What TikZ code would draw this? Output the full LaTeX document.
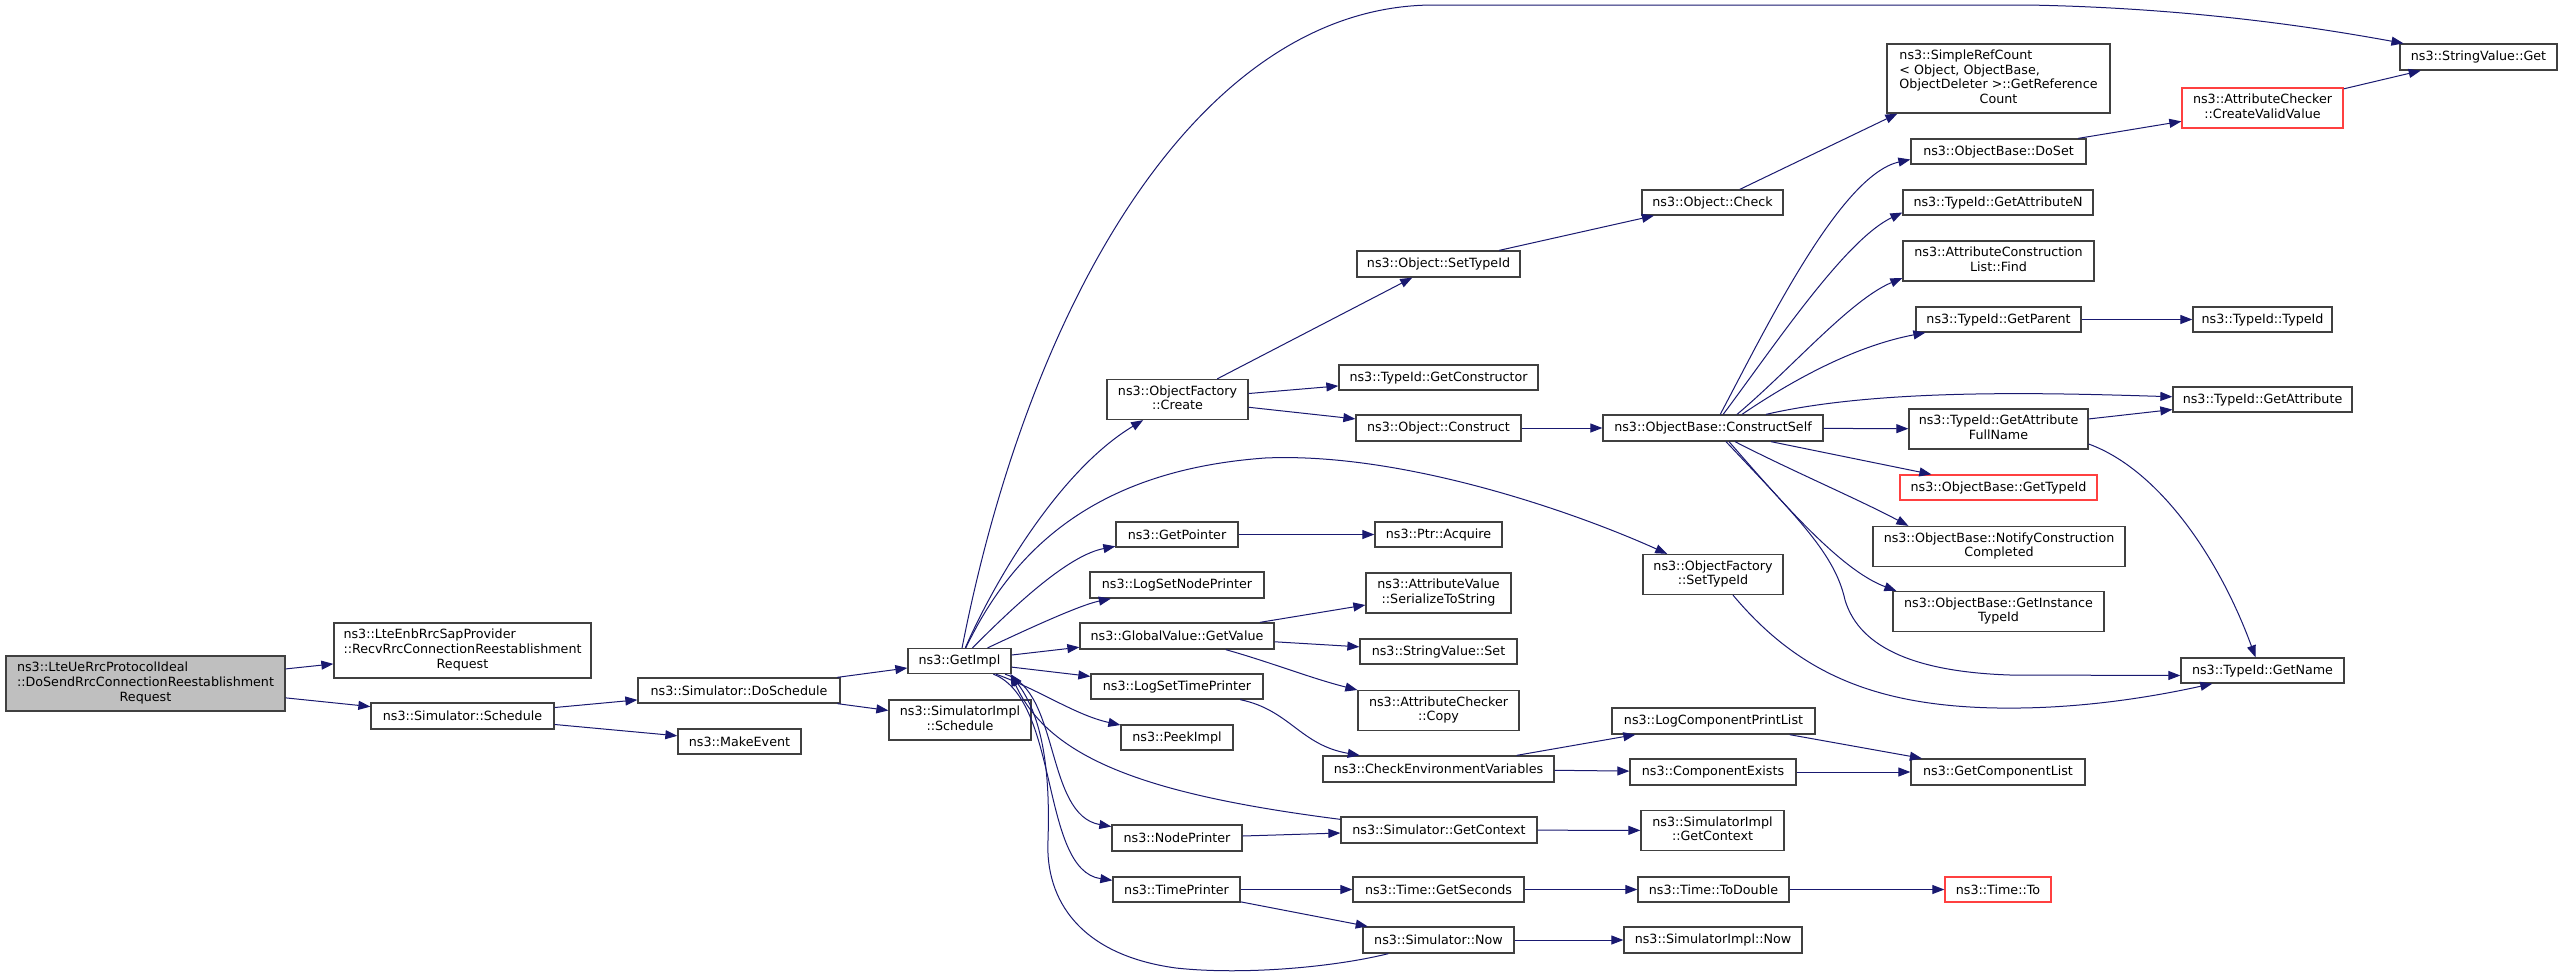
\documentclass[tikz,border=0pt]{standalone}
\usepackage{fontspec}
\setmainfont{DejaVu Sans}
\usetikzlibrary{arrows.meta}
\definecolor{edgeblue}{RGB}{25,25,112}
\definecolor{boxline}{RGB}{64,64,64}
\definecolor{mainfill}{RGB}{191,191,191}
\definecolor{truncred}{RGB}{255,64,64}
\newcommand{\ml}[2]{\begin{tabular}{@{}l@{}}#1\\\multicolumn{1}{@{}c@{}}{#2}\end{tabular}}
\begin{document}
\begin{tikzpicture}[x=1pt,y=-1pt,
  box/.style={draw=boxline, line width=1.3pt, rectangle, inner sep=0pt, fill=white,
    font=\fontsize{12.7}{14.6}\selectfont},
  redbox/.style={box, draw=truncred},
  cg/.style={draw=edgeblue, line width=1pt, -{Triangle[length=12pt,width=9pt]}},
]
\fill[white] (0,0) rectangle (2563,975);
\useasboundingbox (0,0) rectangle (2563,975);

% column 0-2
\node[box, fill=mainfill, minimum width=279pt, minimum height=55pt] (main) at (145.5,683.5) {\ml{ns3::LteUeRrcProtocolIdeal\\::DoSendRrcConnectionReestablishment}{Request}};
\node[box, minimum width=257pt, minimum height=55pt] (lte) at (462.5,650.5) {\ml{ns3::LteEnbRrcSapProvider\\::RecvRrcConnectionReestablishment}{Request}};
\node[box, minimum width=183pt, minimum height=26pt] (sched) at (462.5,716) {ns3::Simulator::Schedule};
\node[box, minimum width=202pt, minimum height=25pt] (dosched) at (739,690.5) {ns3::Simulator::DoSchedule};
\node[box, minimum width=123pt, minimum height=25pt] (makeev) at (739.5,741.5) {ns3::MakeEvent};
\node[box, minimum width=103pt, minimum height=25pt] (getimpl) at (959.5,661) {ns3::GetImpl};
\node[box, minimum width=142pt, minimum height=40pt] (simsched) at (960,720) {\ml{ns3::SimulatorImpl}{::Schedule}};

% column 1177
\node[box, minimum width=141pt, minimum height=40pt] (create) at (1177.5,399.5) {\ml{ns3::ObjectFactory}{::Create}};
\node[box, minimum width=122pt, minimum height=25pt] (getptr) at (1177,534.5) {ns3::GetPointer};
\node[box, minimum width=174pt, minimum height=26pt] (lsnp) at (1177,585) {ns3::LogSetNodePrinter};
\node[box, minimum width=194pt, minimum height=26pt] (gvget) at (1177,636) {ns3::GlobalValue::GetValue};
\node[box, minimum width=172pt, minimum height=25pt] (lstp) at (1177,686.5) {ns3::LogSetTimePrinter};
\node[box, minimum width=112pt, minimum height=25pt] (peek) at (1177,737.5) {ns3::PeekImpl};
\node[box, minimum width=130pt, minimum height=26pt] (nodep) at (1177,838) {ns3::NodePrinter};
\node[box, minimum width=127pt, minimum height=25pt] (timep) at (1176.5,889.5) {ns3::TimePrinter};

% column 1438
\node[box, minimum width=163pt, minimum height=26pt] (osettid) at (1438.5,264) {ns3::Object::SetTypeId};
\node[box, minimum width=199pt, minimum height=25pt] (getctor) at (1438.5,377.5) {ns3::TypeId::GetConstructor};
\node[box, minimum width=165pt, minimum height=26pt] (construct) at (1438.5,428) {ns3::Object::Construct};
\node[box, minimum width=127pt, minimum height=25pt] (acquire) at (1438.5,534.5) {ns3::Ptr::Acquire};
\node[box, minimum width=145pt, minimum height=40pt] (serial) at (1438.5,593) {\ml{ns3::AttributeValue}{::SerializeToString}};
\node[box, minimum width=157pt, minimum height=25pt] (svset) at (1438.5,651.5) {ns3::StringValue::Set};
\node[box, minimum width=161pt, minimum height=40pt] (copy) at (1438.5,710.5) {\ml{ns3::AttributeChecker}{::Copy}};
\node[box, minimum width=231pt, minimum height=26pt] (checkenv) at (1438.5,769) {ns3::CheckEnvironmentVariables};
\node[box, minimum width=196pt, minimum height=26pt] (simgetctx) at (1439,830) {ns3::Simulator::GetContext};
\node[box, minimum width=171pt, minimum height=25pt] (getsec) at (1438.5,889.5) {ns3::Time::GetSeconds};
\node[box, minimum width=151pt, minimum height=26pt] (simnow) at (1438.5,940) {ns3::Simulator::Now};

% column 1713
\node[box, minimum width=141pt, minimum height=25pt] (check) at (1712.5,202.5) {ns3::Object::Check};
\node[box, minimum width=220pt, minimum height=26pt] (cself) at (1713,428) {ns3::ObjectBase::ConstructSelf};
\node[box, minimum width=140pt, minimum height=40pt] (ofsettid) at (1713,574.5) {\ml{ns3::ObjectFactory}{::SetTypeId}};
\node[box, minimum width=203pt, minimum height=26pt] (lcpl) at (1713.5,721) {ns3::LogComponentPrintList};
\node[box, minimum width=166pt, minimum height=26pt] (compex) at (1713,772) {ns3::ComponentExists};
\node[box, minimum width=143pt, minimum height=40pt] (implctx) at (1712.5,830.5) {\ml{ns3::SimulatorImpl}{::GetContext}};
\node[box, minimum width=151pt, minimum height=25pt] (todouble) at (1713.5,889.5) {ns3::Time::ToDouble};
\node[box, minimum width=178pt, minimum height=26pt] (implnow) at (1713,940) {ns3::SimulatorImpl::Now};

% column 1998
\node[box, minimum width=223pt, minimum height=69pt] (simpleref) at (1998.5,78.5) {\ml{ns3::SimpleRefCount\\< Object, ObjectBase,\\ObjectDeleter >::GetReference}{Count}};
\node[box, minimum width=175pt, minimum height=25pt] (doset) at (1998.5,151.5) {ns3::ObjectBase::DoSet};
\node[box, minimum width=190pt, minimum height=25pt] (getattrn) at (1998,202.5) {ns3::TypeId::GetAttributeN};
\node[box, minimum width=191pt, minimum height=40pt] (acfind) at (1998.5,261) {\ml{ns3::AttributeConstruction}{List::Find}};
\node[box, minimum width=165pt, minimum height=25pt] (getparent) at (1998.5,319.5) {ns3::TypeId::GetParent};
\node[box, minimum width=179pt, minimum height=40pt] (fullname) at (1998.5,429) {\ml{ns3::TypeId::GetAttribute}{FullName}};
\node[redbox, minimum width=197pt, minimum height=25pt] (gettypeid) at (1998.5,487.5) {ns3::ObjectBase::GetTypeId};
\node[box, minimum width=252pt, minimum height=40pt] (notify) at (1999,546.5) {\ml{ns3::ObjectBase::NotifyConstruction}{Completed}};
\node[box, minimum width=211pt, minimum height=40pt] (instance) at (1998.5,611.5) {\ml{ns3::ObjectBase::GetInstance}{TypeId}};
\node[box, minimum width=174pt, minimum height=26pt] (getcomplist) at (1998,772) {ns3::GetComponentList};
\node[redbox, minimum width=106pt, minimum height=25pt] (timeto) at (1998,889.5) {ns3::Time::To};

% column 2262
\node[redbox, minimum width=161pt, minimum height=40pt] (cvv) at (2262.5,108) {\ml{ns3::AttributeChecker}{::CreateValidValue}};
\node[box, minimum width=139pt, minimum height=25pt] (typeidtypeid) at (2262.5,319.5) {ns3::TypeId::TypeId};
\node[box, minimum width=179pt, minimum height=25pt] (getattr) at (2262.5,399.5) {ns3::TypeId::GetAttribute};
\node[box, minimum width=163pt, minimum height=25pt] (getname) at (2262.5,670.5) {ns3::TypeId::GetName};

% column 2478
\node[box, minimum width=157pt, minimum height=26pt] (svget) at (2478.5,57) {ns3::StringValue::Get};

% edges
\draw[cg] (main) -- (lte);
\draw[cg] (main) -- (sched);
\draw[cg] (sched) -- (dosched);
\draw[cg] (sched) -- (makeev);
\draw[cg] (dosched) -- (getimpl);
\draw[cg] (dosched) -- (simsched);
\draw[cg] (getimpl) .. controls (1030,300) and (1200,5) .. (1434,5) -- (2027,5) .. controls (2200,8) and (2330,30) .. (svget);
\draw[cg] (getimpl) .. controls (995,580) and (1060,470) .. (create);
\draw[cg] (getimpl) .. controls (1015,545) and (1100,470) .. (1265,458) .. controls (1400,452) and (1570,510) .. (ofsettid);
\draw[cg] (getimpl) .. controls (1020,600) and (1070,555) .. (getptr);
\draw[cg] (getimpl) .. controls (1030,628) and (1080,605) .. (lsnp);
\draw[cg] (getimpl) -- (gvget);
\draw[cg] (getimpl) -- (lstp);
\draw[cg] (getimpl) .. controls (1040,690) and (1075,715) .. (peek);
\draw[cg] (getimpl) .. controls (1060,690) and (1045,815) .. (nodep);
\draw[cg] (getimpl) .. controls (1060,700) and (1040,870) .. (timep);
\draw[cg] ([shift={(0,3)}]simgetctx.north west) .. controls (1150,795) and (1050,760) .. ([shift={(-1,0)}]getimpl.south east);
\draw[cg] ([shift={(26,0)}]simnow.south west) .. controls (1330,968) and (1240,975) .. (1176,968) .. controls (1080,955) and (1045,900) .. (1048,840) .. controls (1050,780) and (1045,720) .. ([shift={(-1,0)}]getimpl.south east);
\draw[cg] (lstp) .. controls (1290,710) and (1300,745) .. (checkenv);
\draw[cg] (getptr) -- (acquire);
\draw[cg] (gvget) -- (serial);
\draw[cg] (gvget) -- (svset);
\draw[cg] (gvget) .. controls (1270,662) and (1310,678) .. (copy);
\draw[cg] (nodep) -- (simgetctx);
\draw[cg] (timep) -- (getsec);
\draw[cg] (timep) -- (simnow);
\draw[cg] (create) -- (osettid);
\draw[cg] (create) -- (getctor);
\draw[cg] (create) -- (construct);
\draw[cg] (osettid) -- (check);
\draw[cg] (check) -- ([shift={(11,0)}]simpleref.south west);
\draw[cg] (construct) -- (cself);
\draw[cg] (cself) .. controls (1765,330) and (1840,175) .. ([shift={(0,8)}]doset.west);
\draw[cg] (cself) .. controls (1775,345) and (1845,240) .. ([shift={(0,10)}]getattrn.west);
\draw[cg] ([shift={(24,0)}]cself.north) .. controls (1790,370) and (1850,300) .. ([shift={(0,17)}]acfind.west);
\draw[cg] ([shift={(29,0)}]cself.north) .. controls (1800,375) and (1860,345) .. ([shift={(10,0)}]getparent.south west);
\draw[cg] ([shift={(53,0)}]cself.north) .. controls (1880,388) and (2050,393) .. (getattr);
\draw[cg] (cself) -- (fullname);
\draw[cg] ([shift={(58,0)}]cself.south) -- ([shift={(32,0)}]gettypeid.north west);
\draw[cg] ([shift={(22,0)}]cself.south) .. controls (1790,470) and (1860,500) .. ([shift={(36,0)}]notify.north west);
\draw[cg] ([shift={(16,0)}]cself.south) .. controls (1780,500) and (1840,570) .. ([shift={(4,0)}]instance.north west);
\draw[cg] ([shift={(13,0)}]cself.south) .. controls (1800,520) and (1835,555) .. (1845,600) .. controls (1860,650) and (1920,672) .. (2010,675) -- ([shift={(0,5)}]getname.west);
\draw[cg] (doset) -- (cvv);
\draw[cg] (cvv) -- (svget);
\draw[cg] (getparent) -- (typeidtypeid);
\draw[cg] (fullname) -- (getattr);
\draw[cg] ([shift={(0,15)}]fullname.east) .. controls (2160,470) and (2220,560) .. ([shift={(-7,0)}]getname.north);
\draw[cg] ([shift={(20,0)}]ofsettid.south) .. controls (1800,675) and (1880,710) .. (2020,708) .. controls (2100,707) and (2170,693) .. ([shift={(32,0)}]getname.south west);
\draw[cg] (checkenv) -- (lcpl);
\draw[cg] (checkenv) -- (compex);
\draw[cg] (lcpl) -- (getcomplist);
\draw[cg] (compex) -- (getcomplist);
\draw[cg] (simgetctx) -- (implctx);
\draw[cg] (getsec) -- (todouble);
\draw[cg] (todouble) -- (timeto);
\draw[cg] (simnow) -- (implnow);
\end{tikzpicture}
\end{document}
